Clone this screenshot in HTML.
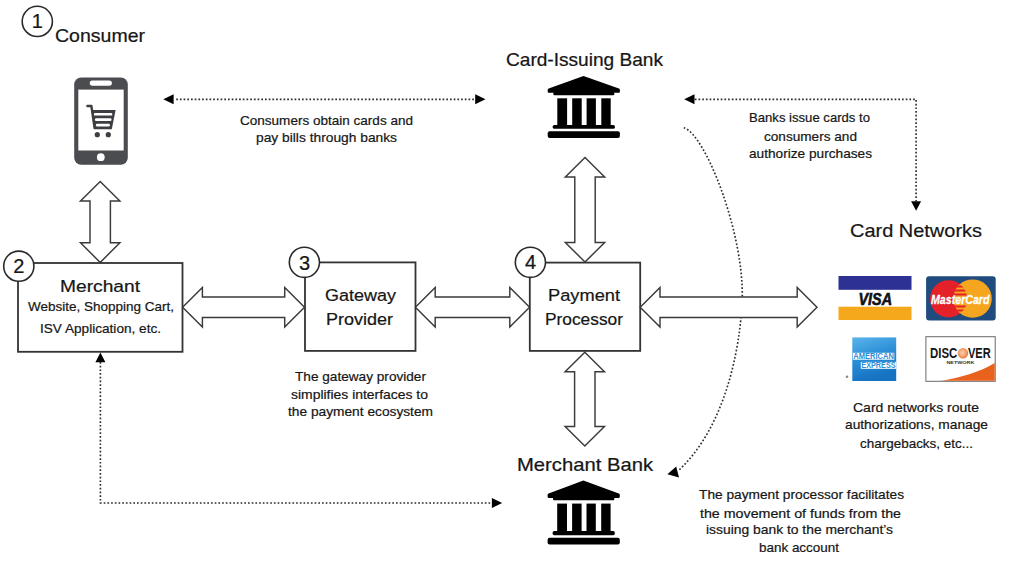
<!DOCTYPE html><html><head><meta charset="utf-8"><style>
html,body{margin:0;padding:0;background:#fff;}
body{width:1016px;height:565px;overflow:hidden;position:relative;}
svg{position:absolute;left:0;top:0;}
text{font-family:"Liberation Sans",sans-serif;fill:#161616;}
text[id]{stroke:#161616;stroke-width:0.22px;}
</style></head><body>
<svg width="1016" height="565" viewBox="0 0 1016 565">
<rect x="0" y="0" width="1016" height="565" fill="#fff"/>

<path d="M683.8,127.8 C704.4,132.9 744.3,232.2 742.2,299.7 C741.2,329.6 732.1,420.0 678.8,470.3" stroke="#2e2e2e" stroke-width="1.65" stroke-dasharray="1.7 2.0" fill="none"/>
<path d="M176.2,99.3 H475" stroke="#2e2e2e" stroke-width="1.65" stroke-dasharray="1.7 2.0" fill="none"/>
<path d="M694.8,99.3 H916.1 V201.2" stroke="#2e2e2e" stroke-width="1.65" stroke-dasharray="1.7 2.0" fill="none"/>
<path d="M100.4,362 V503 H491.8" stroke="#2e2e2e" stroke-width="1.65" stroke-dasharray="1.7 2.0" fill="none"/>
<g fill="#000"><path d="M163.30,99.30 L173.60,94.30 L173.60,104.30 Z"/><path d="M485.50,99.30 L475.20,104.30 L475.20,94.30 Z"/><path d="M684.20,99.30 L694.50,94.30 L694.50,104.30 Z"/><path d="M916.10,210.70 L911.10,201.30 L921.10,201.30 Z"/><path d="M100.40,352.40 L105.40,362.20 L95.40,362.20 Z"/><path d="M502.20,503.00 L491.90,508.00 L491.90,498.00 Z"/><path d="M667.4,474.3 L676.2,466.4 L679.0,477.6 Z"/></g>
<rect x="18" y="263" width="164.5" height="88.8" fill="#fff" stroke="#333" stroke-width="1.8"/>
<rect x="305" y="262.4" width="110.5" height="88.5" fill="#fff" stroke="#333" stroke-width="1.8"/>
<rect x="529.8" y="262.6" width="110.4" height="88.3" fill="#fff" stroke="#333" stroke-width="1.8"/>
<path d="M182.6,307.2 L202.4,287.5 L202.4,297.0 L284.7,297.0 L284.7,287.5 L304.5,307.2 L284.7,326.9 L284.7,317.4 L202.4,317.4 L202.4,326.9 Z" fill="#fff" stroke="#3a3a3a" stroke-width="1.45" stroke-linejoin="miter"/>
<path d="M415.4,307.2 L435.2,287.5 L435.2,297.0 L509.8,297.0 L509.8,287.5 L529.6,307.2 L509.8,326.9 L509.8,317.4 L435.2,317.4 L435.2,326.9 Z" fill="#fff" stroke="#3a3a3a" stroke-width="1.45" stroke-linejoin="miter"/>
<path d="M640.2,307.2 L660.0,287.5 L660.0,297.0 L797.2,297.0 L797.2,287.5 L817.0,307.2 L797.2,326.9 L797.2,317.4 L660.0,317.4 L660.0,326.9 Z" fill="#fff" stroke="#3a3a3a" stroke-width="1.45" stroke-linejoin="miter"/>
<path d="M100.2,181.4 L119.9,201.0 L110.4,201.0 L110.4,242.79999999999998 L119.9,242.79999999999998 L100.2,262.4 L80.5,242.79999999999998 L90.0,242.79999999999998 L90.0,201.0 L80.5,201.0 Z" fill="#fff" stroke="#3a3a3a" stroke-width="1.45" stroke-linejoin="miter"/>
<path d="M585.0,157.4 L604.7,177.0 L595.2,177.0 L595.2,242.4 L604.7,242.4 L585.0,262.0 L565.3,242.4 L574.8,242.4 L574.8,177.0 L565.3,177.0 Z" fill="#fff" stroke="#3a3a3a" stroke-width="1.45" stroke-linejoin="miter"/>
<path d="M584.8,352.2 L604.5,371.8 L595.0,371.8 L595.0,426.5 L604.5,426.5 L584.8,446.1 L565.0999999999999,426.5 L574.5999999999999,426.5 L574.5999999999999,371.8 L565.0999999999999,371.8 Z" fill="#fff" stroke="#3a3a3a" stroke-width="1.45" stroke-linejoin="miter"/>
<circle cx="37.3" cy="21.4" r="15.1" fill="#fff" stroke="#2a2a2a" stroke-width="1.6"/>
<circle cx="18.8" cy="266.2" r="15.1" fill="#fff" stroke="#2a2a2a" stroke-width="1.6"/>
<circle cx="304.4" cy="262.3" r="15.1" fill="#fff" stroke="#2a2a2a" stroke-width="1.6"/>
<circle cx="530.4" cy="262.3" r="15.1" fill="#fff" stroke="#2a2a2a" stroke-width="1.6"/>
<g>
<rect x="74.2" y="77.4" width="53.6" height="87.3" rx="7" fill="#4a4c4f"/>
<rect x="78.3" y="89.6" width="45.4" height="60.9" fill="#fff"/>
<rect x="89.7" y="80.5" width="22.2" height="5.2" rx="2.6" fill="#fff"/>
<circle cx="100.8" cy="157.2" r="3.9" fill="#fff"/>
<path d="M87.4,106 H91.4 L94.6,128" stroke="#3c3e41" stroke-width="2.4" stroke-linecap="round" stroke-linejoin="round" fill="none"/>
<path d="M92.2,110.1 L115.6,110.1 L111.8,129.3 L94.6,129.3 Z" fill="#3c3e41"/>
<rect x="93.9" y="113.1" width="18.4" height="2.5" rx="1.2" fill="#fff"/>
<rect x="94.9" y="118.3" width="16.6" height="2.6" rx="1.2" fill="#fff"/>
<rect x="95.9" y="123.7" width="14.0" height="2.7" rx="1.2" fill="#fff"/>
<circle cx="97.3" cy="134.7" r="2.6" fill="#3c3e41"/>
<circle cx="108.3" cy="134.7" r="2.6" fill="#3c3e41"/>
</g>
<g fill="#000"><path d="M583.5,76.0 L618.9000000000001,88.6 Q619.9000000000001,89.0 619.9000000000001,90.0 L619.9000000000001,91.8 Q619.9000000000001,92.8 618.9000000000001,92.8 L548.7,92.8 Q547.7,92.8 547.7,91.8 L547.7,90.0 Q547.7,89.0 548.7,88.6 Z"/>
<rect x="553.3000000000001" y="92.0" width="61" height="3.2" rx="1.2"/>
<rect x="557.3000000000001" y="98.3" width="9.80" height="27.50"/>
<rect x="572.2" y="98.3" width="9.50" height="27.50"/>
<rect x="586.6" y="98.3" width="9.30" height="27.50"/>
<rect x="601.3000000000001" y="98.3" width="9.40" height="27.50"/>
<rect x="552.7" y="124.9" width="62.2" height="3.90" rx="1.6"/>
<rect x="547.7" y="131.3" width="72.2" height="6.60" rx="2"/></g>
<g fill="#000"><path d="M583.4,480.5 L618.8000000000001,493.541 Q619.8000000000001,493.955 619.8000000000001,494.99 L619.8000000000001,496.853 Q619.8000000000001,497.888 618.8000000000001,497.888 L548.6,497.888 Q547.6,497.888 547.6,496.853 L547.6,494.99 Q547.6,493.955 548.6,493.541 Z"/>
<rect x="553.2" y="497.06" width="61" height="3.312" rx="1.2"/>
<rect x="557.2" y="503.58050000000003" width="9.80" height="28.46"/>
<rect x="572.1" y="503.58050000000003" width="9.50" height="28.46"/>
<rect x="586.5" y="503.58050000000003" width="9.30" height="28.46"/>
<rect x="601.2" y="503.58050000000003" width="9.40" height="28.46"/>
<rect x="552.6" y="531.1115" width="62.2" height="4.04" rx="1.6"/>
<rect x="547.6" y="537.7355" width="72.2" height="6.83" rx="2"/></g>
<g>
<rect x="838.5" y="276" width="73" height="13.8" fill="#2d3192"/>
<rect x="838.5" y="306.7" width="73" height="13.3" fill="#f6a81c"/>
<text x="858.5" y="304.6" font-size="16.5" font-weight="bold" font-style="italic" textLength="33.6" lengthAdjust="spacingAndGlyphs" style="fill:#111;stroke:#111;stroke-width:0.6">VISA</text>
</g>
<g>
<rect x="926.1" y="276.3" width="69.6" height="44.2" rx="3" fill="#1f4b7e"/>
<circle cx="948.6" cy="298.8" r="18.6" fill="#e42029"/>
<circle cx="972.6" cy="298.6" r="19.2" fill="#f6a51e"/>
<defs><clipPath id="cr"><circle cx="948.6" cy="298.8" r="18.6"/></clipPath><clipPath id="co"><circle cx="972.6" cy="298.6" r="19.2"/></clipPath></defs>
<g clip-path="url(#cr)"><g clip-path="url(#co)" fill="#e42029">
<rect x="950" y="281.5" width="20" height="2"/><rect x="950" y="285.5" width="20" height="2"/><rect x="950" y="289.5" width="20" height="2"/>
<rect x="950" y="293.5" width="20" height="2"/><rect x="950" y="305.5" width="20" height="2"/><rect x="950" y="309.5" width="20" height="2"/><rect x="950" y="313.5" width="20" height="2"/>
</g></g>
<text x="931" y="303.8" font-size="13.5" font-weight="bold" font-style="italic" textLength="58.5" lengthAdjust="spacingAndGlyphs" style="fill:#fff;stroke:#fff;stroke-width:0.3">MasterCard</text>
</g>
<g>
<defs><linearGradient id="ag" x1="0" y1="0" x2="0.3" y2="1"><stop offset="0" stop-color="#5bb4ea"/><stop offset="0.5" stop-color="#2a8fd8"/><stop offset="1" stop-color="#1673c2"/></linearGradient>
<linearGradient id="og" x1="0" y1="0" x2="1" y2="1"><stop offset="0" stop-color="#f7c7a0"/><stop offset="1" stop-color="#e8701f"/></linearGradient></defs>
<rect x="852.3" y="337.4" width="43.9" height="43.6" fill="url(#ag)"/>
<rect x="852.9" y="352.8" width="41.4" height="6.9" fill="#fff"/>
<rect x="860.8" y="361.9" width="35.2" height="6.9" fill="#fff"/>
<text x="853.3" y="359.3" font-size="9.4" font-weight="bold" textLength="40.6" lengthAdjust="spacingAndGlyphs" style="fill:#2e8ed8">AMERICAN</text>
<text x="861.3" y="368.4" font-size="9.4" font-weight="bold" textLength="34.4" lengthAdjust="spacingAndGlyphs" style="fill:#2e8ed8">EXPRESS</text>
<circle cx="847" cy="376.7" r="1.3" fill="#888"/>
</g>
<g>
<rect x="925.9" y="336.7" width="69.3" height="44.6" fill="#fff" stroke="#6a6a6a" stroke-width="1"/>
<path d="M939.5,381 C960,378 980,372 994.7,363 L994.7,380.8 L939.5,380.8 Z" fill="#e8611d"/>
<defs><radialGradient id="dg" cx="0.45" cy="0.45" r="0.6"><stop offset="0" stop-color="#f9d2b0"/><stop offset="0.6" stop-color="#f0a070"/><stop offset="1" stop-color="#e46a25"/></radialGradient></defs>
<text x="930.0" y="358.3" font-size="14.5" font-weight="bold" textLength="27.2" lengthAdjust="spacingAndGlyphs" style="fill:#151515">DISC</text>
<circle cx="962.9" cy="353.3" r="5.2" fill="url(#dg)"/>
<text x="967.9" y="358.3" font-size="14.5" font-weight="bold" textLength="22.8" lengthAdjust="spacingAndGlyphs" style="fill:#151515">VER</text>
<text x="946.4" y="364.2" font-size="3.5" font-weight="bold" textLength="28" lengthAdjust="spacingAndGlyphs" style="fill:#333">NETWORK</text>
</g>

<text id="t_consumer" x="55.00" y="41.60" font-size="18.60" textLength="90.00" lengthAdjust="spacingAndGlyphs">Consumer</text>
<text id="t_cib" x="506.00" y="66.30" font-size="17.59" textLength="157.00" lengthAdjust="spacingAndGlyphs">Card-Issuing Bank</text>
<text id="t_cn" x="850.00" y="236.60" font-size="18.17" textLength="132.00" lengthAdjust="spacingAndGlyphs">Card Networks</text>
<text id="t_mb" x="517.00" y="471.30" font-size="17.73" textLength="136.00" lengthAdjust="spacingAndGlyphs">Merchant Bank</text>
<text id="t_merchant" x="60.00" y="292.30" font-size="16.90" textLength="80.00" lengthAdjust="spacingAndGlyphs">Merchant</text>
<text id="t_web" x="28.00" y="311.00" font-size="13.60" textLength="146.00" lengthAdjust="spacingAndGlyphs">Website, Shopping Cart,</text>
<text id="t_isv" x="40.00" y="333.30" font-size="13.60" textLength="121.00" lengthAdjust="spacingAndGlyphs">ISV Application, etc.</text>
<text id="t_gw" x="325.00" y="301.20" font-size="16.90" textLength="71.00" lengthAdjust="spacingAndGlyphs">Gateway</text>
<text id="t_prov" x="326.00" y="324.60" font-size="16.90" textLength="67.00" lengthAdjust="spacingAndGlyphs">Provider</text>
<text id="t_pay" x="548.00" y="301.20" font-size="16.90" textLength="72.00" lengthAdjust="spacingAndGlyphs">Payment</text>
<text id="t_proc" x="545.00" y="324.60" font-size="16.90" textLength="78.00" lengthAdjust="spacingAndGlyphs">Processor</text>
<text id="t_c1" x="240.00" y="125.10" font-size="13.60" textLength="173.00" lengthAdjust="spacingAndGlyphs">Consumers obtain cards and</text>
<text id="t_c2" x="256.00" y="142.00" font-size="13.60" textLength="141.00" lengthAdjust="spacingAndGlyphs">pay bills through banks</text>
<text id="t_b1" x="749.00" y="122.30" font-size="13.60" textLength="121.00" lengthAdjust="spacingAndGlyphs">Banks issue cards to</text>
<text id="t_b2" x="764.00" y="140.60" font-size="13.60" textLength="93.00" lengthAdjust="spacingAndGlyphs">consumers and</text>
<text id="t_b3" x="749.00" y="157.60" font-size="13.60" textLength="123.00" lengthAdjust="spacingAndGlyphs">authorize purchases</text>
<text id="t_g1" x="295.00" y="381.30" font-size="13.60" textLength="131.00" lengthAdjust="spacingAndGlyphs">The gateway provider</text>
<text id="t_g2" x="291.00" y="398.60" font-size="13.60" textLength="137.00" lengthAdjust="spacingAndGlyphs">simplifies interfaces to</text>
<text id="t_g3" x="288.00" y="415.90" font-size="13.60" textLength="145.00" lengthAdjust="spacingAndGlyphs">the payment ecosystem</text>
<text id="t_n1" x="853.00" y="412.40" font-size="13.60" textLength="126.00" lengthAdjust="spacingAndGlyphs">Card networks route</text>
<text id="t_n2" x="845.00" y="429.40" font-size="13.60" textLength="143.00" lengthAdjust="spacingAndGlyphs">authorizations, manage</text>
<text id="t_n3" x="860.00" y="447.50" font-size="13.60" textLength="113.00" lengthAdjust="spacingAndGlyphs">chargebacks, etc...</text>
<text id="t_p1" x="699.00" y="499.10" font-size="13.60" textLength="205.00" lengthAdjust="spacingAndGlyphs">The payment processor facilitates</text>
<text id="t_p2" x="700.00" y="517.90" font-size="13.60" textLength="201.00" lengthAdjust="spacingAndGlyphs">the movement of funds from the</text>
<text id="t_p3" x="706.00" y="534.10" font-size="13.60" textLength="187.00" lengthAdjust="spacingAndGlyphs">issuing bank to the merchant’s</text>
<text id="t_p4" x="759.00" y="551.50" font-size="13.60" textLength="80.00" lengthAdjust="spacingAndGlyphs">bank account</text>
<text id="d1" x="31.80" y="27.60" font-size="20">1</text>
<text id="d2" x="13.30" y="273.40" font-size="20">2</text>
<text id="d3" x="298.90" y="269.50" font-size="20">3</text>
<text id="d4" x="524.90" y="269.00" font-size="20">4</text>
</svg></body></html>
